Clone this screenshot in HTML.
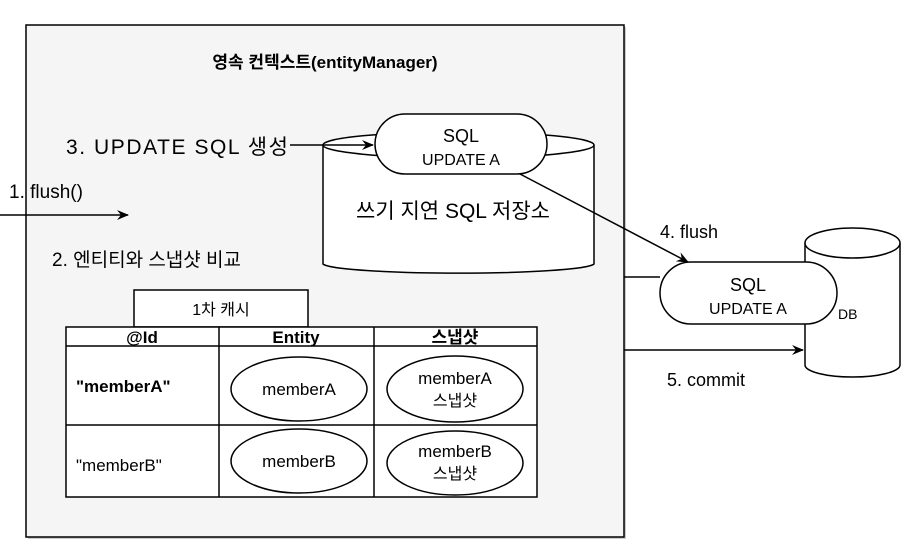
<!DOCTYPE html>
<html><head><meta charset="utf-8"><style>body{margin:0;background:#fff}svg{display:block}text{font-family:"Liberation Sans","Noto Sans CJK KR",sans-serif;fill:#000}</style></head><body>
<svg width="907" height="553" viewBox="0 0 907 553" xmlns="http://www.w3.org/2000/svg">
<defs><marker id="a" markerWidth="12" markerHeight="10" refX="11" refY="5" orient="auto" markerUnits="userSpaceOnUse"><path d="M0,0 L12,5 L0,10 L4,5 z" fill="#000"/></marker></defs>
<rect x="28" y="27" width="598" height="512" fill="#999" opacity="0.5"/>
<rect x="26" y="25" width="598" height="512" fill="#f5f5f5" stroke="#000" stroke-width="1.5"/>
<text x="325" y="68" font-size="17" font-weight="bold" text-anchor="middle">영속 컨텍스트(entityManager)</text>
<text x="66" y="154" font-size="21" textLength="222">3. UPDATE SQL 생성</text>
<text x="9" y="198" font-size="19">1. flush()</text>
<line x1="0" y1="215" x2="128" y2="215" stroke="#000" stroke-width="1.5" marker-end="url(#a)"/>
<text x="52" y="266" font-size="19">2. 엔티티와 스냅샷 비교</text>
<!-- cylinder -->
<path d="M323,145 L323,264 A136,10 0 0 0 594,264 L594,145" fill="#fff" stroke="#000" stroke-width="1.5"/>
<ellipse cx="458.5" cy="145" rx="135.5" ry="13" fill="#fff" stroke="#000" stroke-width="1.5"/>
<line x1="290" y1="145" x2="373" y2="145" stroke="#000" stroke-width="1.5" marker-end="url(#a)"/>
<rect x="375" y="114" width="172" height="60" rx="30" fill="#fff" stroke="#000" stroke-width="1.5"/>
<text x="461" y="142" font-size="18" text-anchor="middle">SQL</text>
<text x="461" y="165" font-size="16" text-anchor="middle">UPDATE A</text>
<text x="453" y="218" font-size="21" text-anchor="middle">쓰기 지연 SQL 저장소</text>
<line x1="520" y1="174" x2="688" y2="262" stroke="#000" stroke-width="1.5" marker-end="url(#a)"/>
<text x="660" y="238" font-size="18">4. flush</text>
<!-- DB -->
<path d="M805,243 L805,365 A47.5,12 0 0 0 900,365 L900,243" fill="#fff" stroke="#000" stroke-width="1.5"/>
<ellipse cx="852.5" cy="243" rx="47.5" ry="15" fill="#fff" stroke="#000" stroke-width="1.5"/>
<line x1="624" y1="277" x2="660" y2="277" stroke="#000" stroke-width="1.5"/>
<rect x="660" y="262" width="177" height="62" rx="31" fill="#fff" stroke="#000" stroke-width="1.5"/>
<text x="748" y="291" font-size="18" text-anchor="middle">SQL</text>
<text x="748" y="314" font-size="16" text-anchor="middle">UPDATE A</text>
<text x="838" y="319" font-size="14">DB</text>
<line x1="624" y1="350" x2="803" y2="350" stroke="#000" stroke-width="1.5" marker-end="url(#a)"/>
<text x="667" y="386" font-size="18">5. commit</text>
<!-- table -->
<rect x="134" y="290" width="174" height="37" fill="#fff" stroke="#000" stroke-width="1.5"/>
<text x="221" y="315" font-size="16" text-anchor="middle">1차 캐시</text>
<rect x="66" y="327" width="471" height="170" fill="#fff" stroke="#000" stroke-width="1.5"/>
<line x1="66" y1="346" x2="537" y2="346" stroke="#000" stroke-width="1.5"/>
<line x1="66" y1="425" x2="537" y2="425" stroke="#000" stroke-width="1.5"/>
<line x1="219" y1="327" x2="219" y2="497" stroke="#000" stroke-width="1.5"/>
<line x1="374" y1="327" x2="374" y2="497" stroke="#000" stroke-width="1.5"/>
<text x="142" y="343" font-size="17" font-weight="bold" text-anchor="middle">@Id</text>
<text x="296" y="343" font-size="17" font-weight="bold" text-anchor="middle">Entity</text>
<text x="455" y="343" font-size="17" font-weight="bold" text-anchor="middle">스냅샷</text>
<text x="76" y="392" font-size="17" font-weight="bold">"memberA"</text>
<text x="76" y="471" font-size="17">"memberB"</text>
<ellipse cx="299" cy="389" rx="68" ry="32" fill="#fff" stroke="#000" stroke-width="1.5"/>
<text x="299" y="395" font-size="17" text-anchor="middle">memberA</text>
<ellipse cx="455" cy="389" rx="68" ry="33" fill="#fff" stroke="#000" stroke-width="1.5"/>
<text x="455" y="384" font-size="17" text-anchor="middle">memberA</text>
<text x="455" y="406" font-size="16" text-anchor="middle">스냅샷</text>
<ellipse cx="299" cy="461" rx="68" ry="32" fill="#fff" stroke="#000" stroke-width="1.5"/>
<text x="299" y="467" font-size="17" text-anchor="middle">memberB</text>
<ellipse cx="455" cy="463" rx="68" ry="32" fill="#fff" stroke="#000" stroke-width="1.5"/>
<text x="455" y="457" font-size="17" text-anchor="middle">memberB</text>
<text x="455" y="479" font-size="16" text-anchor="middle">스냅샷</text>
</svg>
</body></html>
